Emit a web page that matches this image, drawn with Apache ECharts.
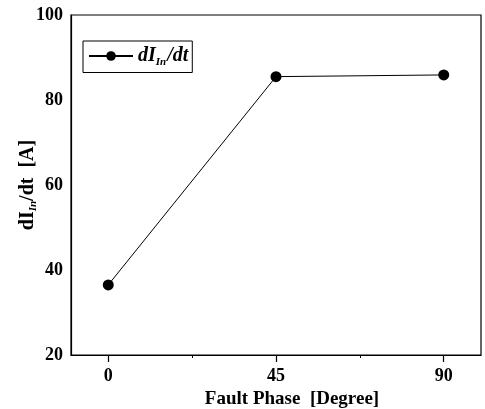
<!DOCTYPE html>
<html>
<head>
<meta charset="utf-8">
<script src="https://cdn.jsdelivr.net/npm/echarts@6/dist/echarts.min.js"></script>
<style>html,body{margin:0;padding:0;background:#fff;}#c{width:485px;height:409px;}</style>
</head>
<body>
<div id="c"></div>
<script>
var phases = [0, 45, 90];
var dIdt = [36.5, 85.5, 85.9];
var xTickLabels = [0, 45, 90];
var xMinorTicks = [22.5, 67.5];
var yTickLabels = [20, 40, 60, 80, 100];
var seriesName = 'dI_In/dt';

var font = '"Liberation Serif", "DejaVu Serif", serif';
var chart = echarts.init(document.getElementById('c'), null, {renderer: 'canvas'});
chart.setOption({
  animation: false,
  backgroundColor: '#fff',
  grid: {left: 71, right: 4, top: 15, bottom: 54, containLabel: false, outerBoundsMode: 'none',
    show: true, borderColor: '#000', borderWidth: 1.2, backgroundColor: 'transparent'},
  legend: {
    left: 83, top: 41,
    orient: 'vertical',
    borderColor: '#000', borderWidth: 1,
    padding: [5, 4, 5, 5],
    itemWidth: 44, itemHeight: 12,
    itemGap: 0,
    data: [seriesName],
    formatter: function () { return '{a|dI}{b|In}{a|/dt}'; },
    textStyle: {
      color: '#000', fontFamily: font, fontWeight: 'bold', fontStyle: 'italic', fontSize: 20,
      rich: {
        a: {fontFamily: font, fontWeight: 'bold', fontStyle: 'italic', fontSize: 20, color: '#000'},
        b: {fontFamily: font, fontWeight: 'bold', fontStyle: 'italic', fontSize: 11, color: '#000', verticalAlign: 'bottom', padding: [12, 1, 0, 0]}
      }
    }
  },
  xAxis: [{
    type: 'value', min: -10, max: 100, position: 'bottom',
    name: 'Fault Phase  [Degree]', nameLocation: 'middle', nameGap: 35, nameMoveOverlap: false,
    nameTextStyle: {color: '#000', fontFamily: font, fontWeight: 'bold', fontSize: 19, padding: [0, 0, 0, 32]},
    axisLine: {show: true, onZero: false, lineStyle: {color: '#000', width: 1.2}},
    axisTick: {show: true, customValues: xTickLabels, length: 7, lineStyle: {color: '#000', width: 1.2}},
    axisLabel: {show: true, customValues: xTickLabels, margin: 12, color: '#000', fontFamily: font, fontWeight: 'bold', fontSize: 18},
    splitLine: {show: false}
  }, {
    type: 'value', min: -10, max: 100, position: 'bottom',
    axisLine: {show: false, onZero: false},
    axisTick: {show: true, customValues: xMinorTicks, length: 3, lineStyle: {color: '#000', width: 1}},
    axisLabel: {show: false},
    splitLine: {show: false}
  }],
  yAxis: {
    type: 'value', min: 20, max: 100, interval: 20,
    name: '{n|dI}{s|In}{n|/dt  [A]}', nameLocation: 'middle', nameGap: 32, nameRotate: 90, nameMoveOverlap: false,
    nameTextStyle: {
      color: '#000', fontFamily: font, fontWeight: 'bold', fontSize: 20,
      rich: {
        n: {fontFamily: font, fontWeight: 'bold', fontSize: 20, color: '#000'},
        s: {fontFamily: font, fontWeight: 'bold', fontStyle: 'italic', fontSize: 11, color: '#000', verticalAlign: 'bottom', padding: [11, 0, 0, 0]}
      }
    },
    axisLine: {show: true, onZero: false, lineStyle: {color: '#000', width: 1.2}},
    axisTick: {show: false},
    axisLabel: {margin: 8, color: '#000', fontFamily: font, fontWeight: 'bold', fontSize: 18,
      formatter: function (v) { return yTickLabels.indexOf(v) >= 0 ? String(v) : ''; }},
    splitLine: {show: false}
  },
  series: [{
    name: seriesName,
    type: 'line',
    xAxisIndex: 0,
    data: phases.map(function (p, i) { return [p, dIdt[i]]; }),
    symbol: 'circle', symbolSize: 11,
    itemStyle: {color: '#000'},
    lineStyle: {color: '#000', width: 1}
  }]
});
</script>
</body>
</html>
